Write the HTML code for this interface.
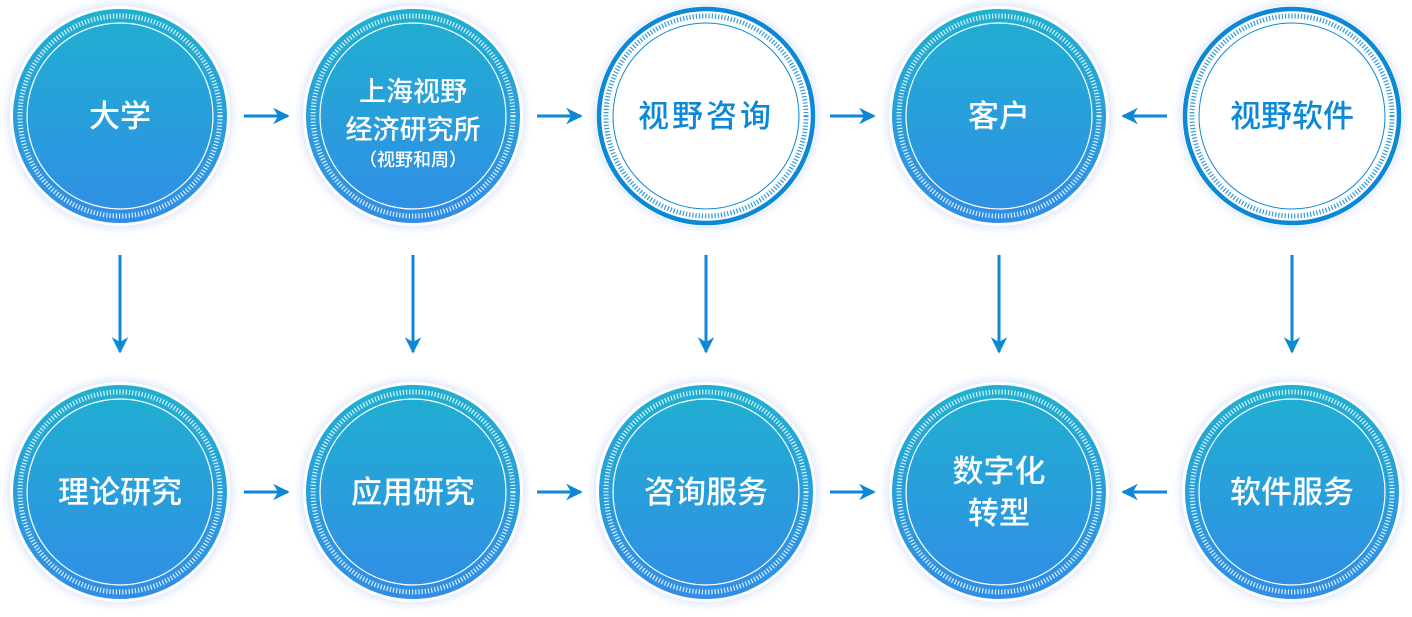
<!DOCTYPE html>
<html><head><meta charset="utf-8"><style>
html,body{margin:0;padding:0;background:#fff;width:1412px;height:617px;overflow:hidden}
text{font-family:"Liberation Sans","Noto Sans CJK SC",sans-serif;font-weight:500}
</style></head><body>
<svg width="1412" height="617" viewBox="0 0 1412 617" xmlns="http://www.w3.org/2000/svg">
<defs>
<linearGradient id="g" x1="0" y1="0" x2="0" y2="1">
<stop offset="0" stop-color="#1fb0d0"/><stop offset="1" stop-color="#318de6"/></linearGradient>
<filter id="sh" x="-20%" y="-20%" width="140%" height="140%"><feGaussianBlur stdDeviation="4"/></filter>
<marker id="ah" viewBox="0 0 10 10" refX="9" refY="5" markerWidth="5.5" markerHeight="5.5" orient="auto"><path d="M0,0 L10,5 L0,10 L3,5z" fill="#0b88d6"/></marker>
<g id="fill">
<circle r="113" fill="#dfe8fb" filter="url(#sh)"/>
<circle r="110" fill="#fff"/>
<circle r="107" fill="url(#g)"/>
<circle r="100" fill="none" stroke="#fff" stroke-width="5" stroke-dasharray="1.2 2" opacity="0.85"/>
<circle r="93" fill="none" stroke="#fff" stroke-width="1.2"/>
</g>
<g id="out">
<circle r="113" fill="#e3ebfb" filter="url(#sh)"/>
<circle r="110" fill="#fff"/>
<circle r="107" fill="#fff" stroke="#0b88d6" stroke-width="4.5"/>
<circle r="100" fill="none" stroke="#0b88d6" stroke-width="5" stroke-dasharray="1.2 2" opacity="0.85"/>
<circle r="93" fill="none" stroke="#0b88d6" stroke-width="1"/>
</g>
</defs>
<g stroke="#0b88d6" stroke-width="3" marker-end="url(#ah)">
<line x1="244" y1="116" x2="288" y2="116"/>
<line x1="537" y1="116" x2="581" y2="116"/>
<line x1="830" y1="116" x2="874" y2="116"/>
<line x1="1167" y1="116" x2="1123" y2="116"/>
<line x1="244" y1="492" x2="288" y2="492"/>
<line x1="537" y1="492" x2="581" y2="492"/>
<line x1="830" y1="492" x2="874" y2="492"/>
<line x1="1167" y1="492" x2="1123" y2="492"/>
<line x1="120" y1="255" x2="120" y2="352"/>
<line x1="413" y1="255" x2="413" y2="352"/>
<line x1="706" y1="255" x2="706" y2="352"/>
<line x1="999" y1="255" x2="999" y2="352"/>
<line x1="1292" y1="255" x2="1292" y2="352"/>
</g>
<use href="#fill" x="120" y="116"/>
<use href="#fill" x="413" y="116"/>
<use href="#out" x="706" y="116"/>
<use href="#fill" x="999" y="116"/>
<use href="#out" x="1292" y="116"/>
<use href="#fill" x="120" y="492"/>
<use href="#fill" x="413" y="492"/>
<use href="#fill" x="706" y="492"/>
<use href="#fill" x="999" y="492"/>
<use href="#fill" x="1292" y="492"/>
<g fill="#fff" font-size="31" text-anchor="middle">
<text x="120" y="127">大学</text>
<text x="413" y="101" font-size="27">上海视野</text>
<text x="413" y="139" font-size="27">经济研究所</text>
<text x="413" y="166" font-size="18">（视野和周）</text>
<text x="999" y="127">客户</text>
<text x="120" y="503">理论研究</text>
<text x="413" y="503">应用研究</text>
<text x="706" y="503">咨询服务</text>
<text x="999" y="482">数字化</text>
<text x="999" y="524">转型</text>
<text x="1292" y="503">软件服务</text>
</g>
<g fill="#0b88d6" font-size="31" text-anchor="middle">
<text x="706" y="127" letter-spacing="3">视野咨询</text>
<text x="1292" y="127">视野软件</text>
</g>
</svg>
</body></html>
